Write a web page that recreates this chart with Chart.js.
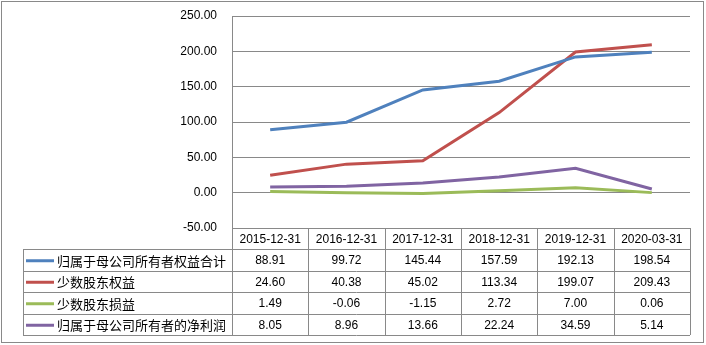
<!DOCTYPE html>
<html>
<head>
<meta charset="utf-8">
<script src="https://cdn.jsdelivr.net/npm/chart.js@4/dist/chart.umd.min.js"></script>
<style>
  html, body { margin: 0; padding: 0; background: #fff; }
  #wrap { width: 706px; height: 345px; position: relative; }
</style>
</head>
<body>
<div id="wrap"><canvas id="c"></canvas></div>
<script>
const categories = ['2015-12-31', '2016-12-31', '2017-12-31', '2018-12-31', '2019-12-31', '2020-03-31'];
const seriesNames = ['归属于母公司所有者权益合计', '少数股东权益', '少数股东损益', '归属于母公司所有者的净利润'];
const equityParent = [88.91, 99.72, 145.44, 157.59, 192.13, 198.54];
const equityMinority = [24.60, 40.38, 45.02, 113.34, 199.07, 209.43];
const profitMinority = [1.49, -0.06, -1.15, 2.72, 7.00, 0.06];
const profitParent = [8.05, 8.96, 13.66, 22.24, 34.59, 5.14];
const yTicks = [-50, 0, 50, 100, 150, 200, 250];

const colors = ['#4F81BD', '#C0504D', '#9BBB59', '#8064A2'];
const allSeries = [equityParent, equityMinority, profitMinority, profitParent];
const gridColor = '#898989';
const numFont = '12px "Liberation Sans", "Noto Sans CJK SC", sans-serif';
const cjkFont = '13px "Noto Sans CJK SC", sans-serif';

// draws the data table under the plot, columns taken from the x scale
const tablePlugin = {
  id: 'table',
  afterDraw(chart) {
    const ctx = chart.ctx;
    const xs = chart.scales.x;
    const area = chart.chartArea;
    const colW = (area.right - area.left) / categories.length;
    const top = area.bottom;
    const headH = 21;
    const rowH = 21.5;
    const legLeft = 23;
    ctx.save();
    ctx.strokeStyle = gridColor;
    ctx.lineWidth = 1;
    ctx.textBaseline = 'middle';
    ctx.textAlign = 'center';
    ctx.fillStyle = '#000';

    // header row
    ctx.font = numFont;
    categories.forEach((c, i) => {
      ctx.fillText(c, xs.getPixelForValue(i), top + headH / 2 + 1);
    });
    // vertical lines
    const bottom = top + headH + rowH * seriesNames.length;
    for (let i = 0; i <= categories.length; i++) {
      const x = Math.round(area.left + i * colW) + 0.5;
      ctx.beginPath();
      ctx.moveTo(x, top);
      ctx.lineTo(x, bottom);
      ctx.stroke();
    }
    ctx.beginPath();
    ctx.moveTo(legLeft + 0.5, top + headH);
    ctx.lineTo(legLeft + 0.5, bottom);
    ctx.stroke();
    // horizontal lines
    for (let r = 0; r <= seriesNames.length; r++) {
      const y = Math.round(top + headH + r * rowH) + 0.5;
      ctx.beginPath();
      ctx.moveTo(legLeft, y);
      ctx.lineTo(area.right, y);
      ctx.stroke();
    }

    // rows
    seriesNames.forEach((name, r) => {
      const cy = top + headH + r * rowH + rowH / 2 + 1;
      ctx.strokeStyle = colors[r];
      ctx.lineWidth = 3;
      ctx.beginPath();
      ctx.moveTo(legLeft + 3, cy);
      ctx.lineTo(legLeft + 31, cy);
      ctx.stroke();
      ctx.textAlign = 'left';
      ctx.font = cjkFont;
      ctx.fillText(name, legLeft + 34, cy);
      ctx.textAlign = 'center';
      ctx.font = numFont;
      allSeries[r].forEach((v, i) => {
        ctx.fillText(v.toFixed(2), xs.getPixelForValue(i), cy);
      });
    });

    // outer frame
    ctx.strokeStyle = gridColor;
    ctx.lineWidth = 1;
    ctx.strokeRect(1.5, 1.5, chart.width - 4, chart.height - 4);
    ctx.restore();
  }
};

new Chart(document.getElementById('c'), {
  type: 'line',
  data: {
    labels: categories,
    datasets: seriesNames.map((n, i) => ({
      label: n,
      data: allSeries[i],
      borderColor: colors[i],
      backgroundColor: colors[i],
      borderWidth: 3,
      pointRadius: 0,
      tension: 0
    }))
  },
  options: {
    responsive: true,
    maintainAspectRatio: false,
    animation: false,
    layout: { padding: { top: 16, right: 16, bottom: 117, left: 0 } },
    plugins: { legend: { display: false }, tooltip: { enabled: false } },
    scales: {
      x: {
        display: false,
        offset: true
      },
      y: {
        min: -50,
        max: 250,
        afterBuildTicks(scale) { scale.ticks = yTicks.map(v => ({ value: v })); },
        afterFit(scale) {
          scale.width = 232;
          scale.paddingTop = 0;
          scale.paddingBottom = 0;
        },
        border: { display: true, color: gridColor },
        grid: { color: gridColor, drawTicks: false },
        ticks: {
          padding: 15,
          color: '#000',
          font: { family: '"Liberation Sans", sans-serif', size: 12 },
          callback: v => Number(v).toFixed(2)
        }
      }
    }
  },
  plugins: [tablePlugin]
});
</script>
</body>
</html>
